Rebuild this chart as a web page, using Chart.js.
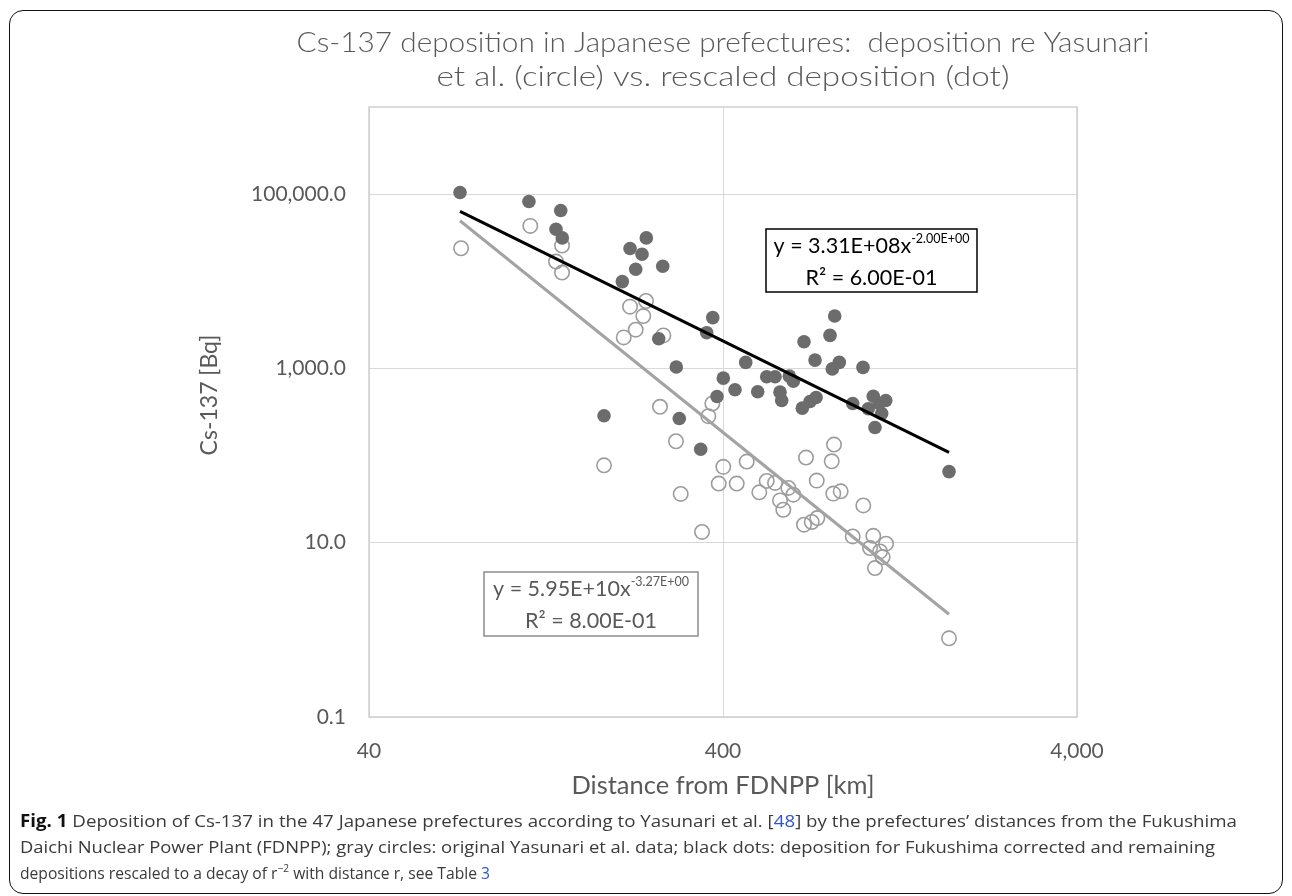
<!DOCTYPE html>
<html><head><meta charset="utf-8">
<script src="https://cdn.jsdelivr.net/npm/chart.js@4.4.1/dist/chart.umd.min.js"></script>
<style>
html,body{margin:0;padding:0;background:#fff;}
body{width:1292px;height:896px;position:relative;overflow:hidden;font-family:Lato,sans-serif;}
#frame{position:absolute;left:9px;top:10px;width:1274px;height:884px;border:1.5px solid #111;border-radius:14px;box-sizing:border-box;}
#c{position:absolute;left:0;top:0;}
#caption{position:absolute;left:20px;top:808px;font-family:"Liberation Sans Narrow","Open Sans",sans-serif;font-size:17px;line-height:26px;color:#3a3a3a;}
.line{white-space:nowrap;transform-origin:0 0;width:max-content;}
.b{font-weight:bold;color:#111;}
.lk{color:#2b55d0;}
sup{font-size:11px;line-height:0;vertical-align:7px;}
</style></head>
<body>
<div id="frame"></div>
<canvas id="c" width="1292" height="810"></canvas>
<div id="caption">
<div class="line" data-w="1217"><span class="b">Fig. 1</span> Deposition of Cs-137 in the 47 Japanese prefectures according to Yasunari et al. [<span class="lk">48</span>] by the prefectures’ distances from the Fukushima</div>
<div class="line" data-w="1195">Daichi Nuclear Power Plant (FDNPP); gray circles: original Yasunari et al. data; black dots: deposition for Fukushima corrected and remaining</div>
<div class="line" data-w="470">depositions rescaled to a decay of r<sup>−2</sup> with distance r, see Table <span class="lk">3</span></div>
</div>
<script>
const titleLines = ['Cs-137 deposition in Japanese prefectures:  deposition re Yasunari', 'et al. (circle) vs. rescaled deposition (dot)'];
const xTitle = 'Distance from FDNPP [km]';
const yTitle = 'Cs-137 [Bq]';
const xTickValues = [40, 400, 4000];
const xTickLabels = ['40', '400', '4,000'];
const yTickValues = [0.1, 10, 1000, 100000];
const yTickLabels = ['0.1', '10.0', '1,000.0', '100,000.0'];

// gray circles: original Yasunari et al. data
const circleDistance = [72.8, 114.2, 140.4, 135, 140.4, 242.4, 218.5, 238.2, 226.7, 209.7, 271.4, 265.5, 373.2, 363.6, 294.6, 184.5, 303.8, 349, 400.8, 389, 437.3, 466.7, 506.5, 531.5, 561.1, 611.8, 632.1, 579.6, 592.1, 677.4, 712.4, 738.8, 686.3, 735.9, 823.5, 811.3, 819.7, 860.1, 996.3, 930, 1063, 1155, 1041, 1111, 1130, 1075, 1740];
const circleDeposition = [23950, 43210, 25720, 16840, 12590, 5936, 5119, 3991, 2784, 2271, 2394, 363, 396, 283, 146, 77.3, 36.3, 13.3, 74.2, 47.7, 47.7, 85.3, 37.9, 51.2, 48.6, 42.5, 35.6, 30.6, 23.9, 16.1, 17.3, 19.2, 94.8, 51.6, 133.8, 86, 36.6, 38.9, 26.8, 11.8, 12.0, 9.74, 8.69, 7.94, 6.85, 5.12, 0.80];

// black dots: rescaled deposition
const dotDistance = [72.3, 113.2, 139.2, 135, 140.6, 218.5, 242.9, 236.2, 270.3, 226.7, 207.8, 263.3, 295.2, 374.2, 359.7, 184.5, 301, 346, 400.8, 432.5, 384.7, 463.7, 501.3, 531.5, 561.1, 615.8, 632.1, 579.6, 586, 670, 704.5, 732.6, 677.4, 727.8, 802.3, 827.2, 814.4, 852.3, 994.3, 930, 1063, 1153, 1029, 1123, 1075, 1740, 1104];
const dotDeposition = [104600, 82400, 64950, 39600, 31460, 23760, 31460, 20430, 14870, 13740, 9920, 2194, 1040, 3826, 2572, 286, 266, 118, 773, 569, 477, 1172, 540, 803, 803, 815, 714, 534, 429, 350, 418, 464, 2027, 1246, 2394, 3991, 987, 1172, 1027, 396, 480, 429, 344, 304, 210, 65.5, 396];

// power-law trendline end points
const trendDistance = [72.3, 1740];
const trendRescaled = [63300, 109];
const trendOriginal = [49500, 1.51];

const eqRescaled = ['y = 3.31E+08x', '-2.00E+00', 'R² = 6.00E-01'];
const eqOriginal = ['y = 5.95E+10x', '-3.27E+00', 'R² = 8.00E-01'];

const pts = (xs, ys) => xs.map((x, i) => ({x: x, y: ys[i]}));
const FONT = 'Lato, "Open Sans", sans-serif';
const GRAY_TXT = '#595959';

const deco = {
  id: 'deco',
  beforeDatasetsDraw(chart) {
    const a = chart.chartArea, ctx = chart.ctx;
    ctx.save();
    ctx.strokeStyle = '#cfcfcf';
    ctx.lineWidth = 1.5;
    ctx.strokeRect(a.left, a.top, a.right - a.left, a.bottom - a.top);
    ctx.restore();
  },
  afterDraw(chart) {
    const a = chart.chartArea, ctx = chart.ctx;
    const cx = (a.left + a.right) / 2;
    ctx.save();
    ctx.fillStyle = GRAY_TXT;
    ctx.textAlign = 'center';
    ctx.textBaseline = 'middle';
    ctx.font = '300 26.5px ' + FONT;
    const fitText = (t, x, y, target) => {
      const w = ctx.measureText(t).width;
      ctx.save();
      ctx.translate(x, y);
      ctx.scale(target / w, 1);
      ctx.fillText(t, 0, 0);
      ctx.restore();
    };
    fitText(titleLines[0], cx, 43, 853);
    fitText(titleLines[1], cx, 77, 573);
    // y title
    ctx.save();
    ctx.translate(210, 395);
    ctx.rotate(-Math.PI / 2);
    ctx.font = '23px ' + FONT;
    ctx.fillText(yTitle, 0, 0);
    ctx.restore();
    // equation boxes
    function box(x, y, w, h, stroke, color, eq) {
      ctx.fillStyle = '#fff';
      ctx.fillRect(x, y, w, h);
      ctx.strokeStyle = stroke;
      ctx.lineWidth = 1.5;
      ctx.strokeRect(x, y, w, h);
      ctx.fillStyle = color;
      ctx.textBaseline = 'alphabetic';
      ctx.textAlign = 'left';
      ctx.font = '21.5px ' + FONT;
      const w1 = ctx.measureText(eq[0]).width;
      ctx.font = '12.5px ' + FONT;
      const w2 = ctx.measureText(eq[1]).width;
      const sx = x + (w - w1 - w2) / 2;
      ctx.font = '21.5px ' + FONT;
      ctx.fillText(eq[0], sx, y + 24);
      ctx.font = '12.5px ' + FONT;
      ctx.fillText(eq[1], sx + w1, y + 14);
      ctx.font = '21.5px ' + FONT;
      ctx.textAlign = 'center';
      ctx.fillText(eq[2], x + w / 2, y + 56);
    }
    box(766, 229, 211, 63, '#000', '#000', eqRescaled);
    box(484, 572, 214, 64, '#8c8c8c', GRAY_TXT, eqOriginal);
    ctx.restore();
  }
};

new Chart(document.getElementById('c'), {
  type: 'scatter',
  data: {
    datasets: [
      {label: 'Trend rescaled', data: pts(trendDistance, trendRescaled), showLine: true, borderColor: '#000', borderWidth: 3, pointRadius: 0, order: 0},
      {label: 'Trend original', data: pts(trendDistance, trendOriginal), showLine: true, borderColor: '#a3a3a3', borderWidth: 3, pointRadius: 0, order: 1},
      {label: 'Rescaled deposition', data: pts(dotDistance, dotDeposition), backgroundColor: '#6c6c6c', borderColor: '#6c6c6c', borderWidth: 0, pointRadius: 6.8, order: 2},
      {label: 'Yasunari et al.', data: pts(circleDistance, circleDeposition), backgroundColor: 'rgba(0,0,0,0)', borderColor: '#9c9c9c', borderWidth: 1.6, pointRadius: 7.2, order: 3}
    ]
  },
  options: {
    responsive: false,
    animation: false,
    events: [],
    layout: {padding: {left: 0, right: 215, top: 107, bottom: 5}},
    plugins: {legend: {display: false}, tooltip: {enabled: false}, title: {display: false}},
    scales: {
      x: {
        type: 'logarithmic', min: 40, max: 4000,
        afterBuildTicks: s => { s.ticks = xTickValues.map(v => ({value: v})); },
        afterFit: s => { s.height = 88; },
        ticks: {callback: (v, i) => xTickLabels[i], font: {family: FONT, size: 21}, color: GRAY_TXT, padding: 22, maxRotation: 0, autoSkip: false},
        grid: {color: '#d9d9d9', lineWidth: 1, drawTicks: false},
        border: {display: false},
        title: {display: true, text: xTitle, font: {family: FONT, size: 25.5}, color: GRAY_TXT, padding: {top: 4, bottom: 4}}
      },
      y: {
        type: 'logarithmic', min: 0.1, max: 1000000,
        afterBuildTicks: s => { s.ticks = yTickValues.map(v => ({value: v})); },
        afterFit: s => { s.width = 369; },
        ticks: {callback: (v, i) => yTickLabels[i], font: {family: FONT, size: 21}, color: GRAY_TXT, padding: 23, autoSkip: false},
        grid: {color: '#d9d9d9', lineWidth: 1, drawTicks: false},
        border: {display: false}
      }
    }
  },
  plugins: [deco]
});

function fitCaption() {
  document.querySelectorAll('#caption .line').forEach(el => {
    el.style.transform = 'none';
    const w = el.getBoundingClientRect().width;
    const target = +el.dataset.w;
    if (w > 0) el.style.transform = 'scaleX(' + (target / w) + ')';
  });
}
fitCaption();
if (document.fonts && document.fonts.ready) document.fonts.ready.then(fitCaption);
</script>
</body></html>
